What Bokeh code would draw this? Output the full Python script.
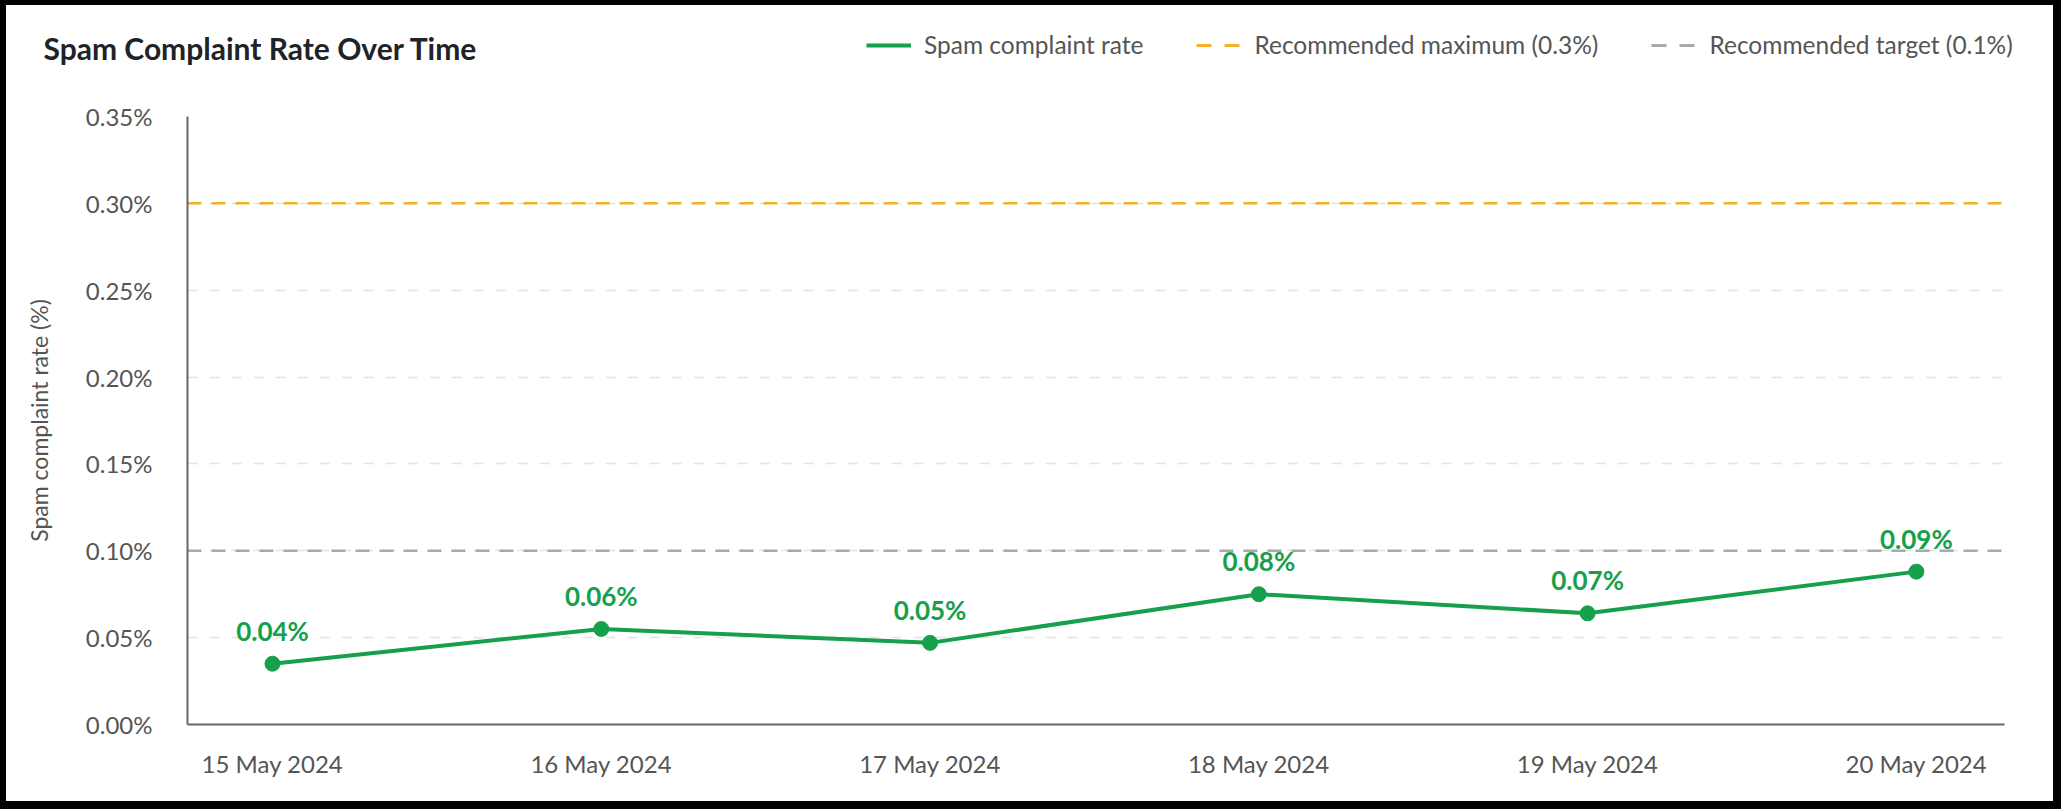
import pandas as pd
from bokeh.plotting import figure
from bokeh.layouts import column, row
from bokeh.models import (Legend, LegendItem, Label, FixedTicker, PrintfTickFormatter,
                          DatetimeTickFormatter, Range1d, ColumnDataSource)
from bokeh.core.properties import value
from bokeh.embed import file_html
from bokeh.resources import INLINE

# ---------------- data ----------------
dates = ["2024-05-15", "2024-05-16", "2024-05-17", "2024-05-18", "2024-05-19", "2024-05-20"]
rate = [0.035, 0.055, 0.047, 0.075, 0.064, 0.088]
rate_labels = ["0.04%", "0.06%", "0.05%", "0.08%", "0.07%", "0.09%"]
recommended_max = 0.30
recommended_target = 0.10
y_ticks = [0.00, 0.05, 0.10, 0.15, 0.20, 0.25, 0.30, 0.35]

title_text = "Spam Complaint Rate Over Time"
y_label = "Spam complaint rate (%)"
legend_labels = ["Spam complaint rate", "Recommended maximum (0.3%)", "Recommended target (0.1%)"]

# ---------------- styles ----------------
FONT = "Lato"
GREEN = "#17a04b"
ORANGE = "#f5b027"
GREY_REF = "#a9a9ad"
TEXT = "#555555"
AXIS = "#666666"

x = pd.to_datetime(dates)
day = pd.Timedelta(days=1)
x_start = x[0] - 0.2585 * day
x_end = x[-1] + 0.268 * day

src = ColumnDataSource(dict(x=x, y=rate, lab=rate_labels))

W = 2047
H_HEAD = 80
H_MAIN = 796 - H_HEAD

# ---------------- header (title + legend) ----------------
h = figure(width=W, height=H_HEAD, output_backend="svg", toolbar_location=None,
           x_range=Range1d(0, 1), y_range=Range1d(0, 1),
           x_axis_location=None, y_axis_location=None,
           min_border=0, min_border_left=0, min_border_right=0,
           min_border_top=0, min_border_bottom=0)
h.outline_line_color = None
h.grid.visible = False
h.background_fill_color = "white"
h.border_fill_color = "white"

h.add_layout(Label(x=37, y=H_HEAD - 42, x_units="screen", y_units="screen", text=title_text,
                   text_font=FONT, text_font_style="bold", text_font_size="30px",
                   text_color="#1e2328", text_baseline="middle", text_align="left"))

# legend-only glyphs (single point, off-screen)
lg_rate = h.line([-1], [-1], line_color=GREEN, line_width=4)
lg_max = h.line([-1], [-1], line_color=ORANGE, line_width=3, line_dash="15 13")
lg_tgt = h.line([-1], [-1], line_color=GREY_REF, line_width=3, line_dash="15 13")
legend = Legend(items=[LegendItem(label=legend_labels[0], renderers=[lg_rate]),
                       LegendItem(label=legend_labels[1], renderers=[lg_max]),
                       LegendItem(label=legend_labels[2], renderers=[lg_tgt])],
                orientation="horizontal", location=(860, H_HEAD - 42 - 12),
                label_text_font=FONT, label_text_font_size="24.5px", label_text_color=TEXT,
                glyph_width=45, glyph_height=24, label_height=24, label_standoff=13,
                spacing=53, padding=0, margin=0,
                border_line_color=None, background_fill_alpha=0)
h.add_layout(legend, "center")

# ---------------- main chart ----------------
p = figure(width=W, height=H_MAIN, output_backend="svg", toolbar_location=None,
           x_axis_type="datetime",
           x_range=Range1d(x_start, x_end), y_range=Range1d(0, 0.35),
           min_border_left=181, min_border_right=49, min_border_top=111 - H_HEAD,
           min_border_bottom=77)
p.outline_line_color = None
p.background_fill_color = "white"
p.border_fill_color = "white"

# grid
p.xgrid.grid_line_color = None
p.ygrid.grid_line_color = "#e3e3e3"
p.ygrid.grid_line_width = 1.5
p.ygrid.grid_line_dash = "10 12"
p.ygrid.ticker = FixedTicker(ticks=y_ticks)

# axes
p.yaxis.ticker = FixedTicker(ticks=y_ticks)
p.yaxis.formatter = PrintfTickFormatter(format="%.2f%%")
p.xaxis.ticker = FixedTicker(ticks=[d.value / 1e6 for d in x])
p.xaxis.formatter = DatetimeTickFormatter(days="%d %b %Y", months="%d %b %Y", hours="%d %b %Y")
for ax in (p.xaxis[0], p.yaxis[0]):
    ax.axis_line_color = AXIS
    ax.axis_line_width = 2
    ax.major_tick_line_color = None
    ax.minor_tick_line_color = None
    ax.major_label_text_font = FONT
    ax.major_label_text_font_size = "24px"
    ax.major_label_text_color = TEXT
p.yaxis.major_label_standoff = 29
p.xaxis.major_label_standoff = 18
p.yaxis.axis_label = y_label
p.yaxis.axis_label_text_font = FONT
p.yaxis.axis_label_text_font_style = "normal"
p.yaxis.axis_label_text_font_size = "23px"
p.yaxis.axis_label_text_color = TEXT
p.yaxis.axis_label_standoff = 30

# reference lines
p.line([x_start, x_end], [recommended_max] * 2, line_color=ORANGE, line_width=2.5, line_dash="14 10")
p.line([x_start, x_end], [recommended_target] * 2, line_color=GREY_REF, line_width=2.5, line_dash="14 10")

# data
p.line("x", "y", source=src, line_color=GREEN, line_width=4)
p.scatter("x", "y", source=src, size=15, fill_color=GREEN, line_color=GREEN)
p.text("x", "y", text="lab", source=src, text_font=value(FONT), text_font_style="bold",
       text_font_size="26px", text_color=GREEN, text_align="center", text_baseline="middle",
       y_offset=-33)

layout = column(row(h, spacing=0), p, spacing=0,
                styles={"border-left": "6px solid #000", "border-top": "5px solid #000",
                        "border-right": "8px solid #000", "border-bottom": "8px solid #000",
                        "background": "white"})

open("out.html", "w").write(file_html(layout, INLINE))
